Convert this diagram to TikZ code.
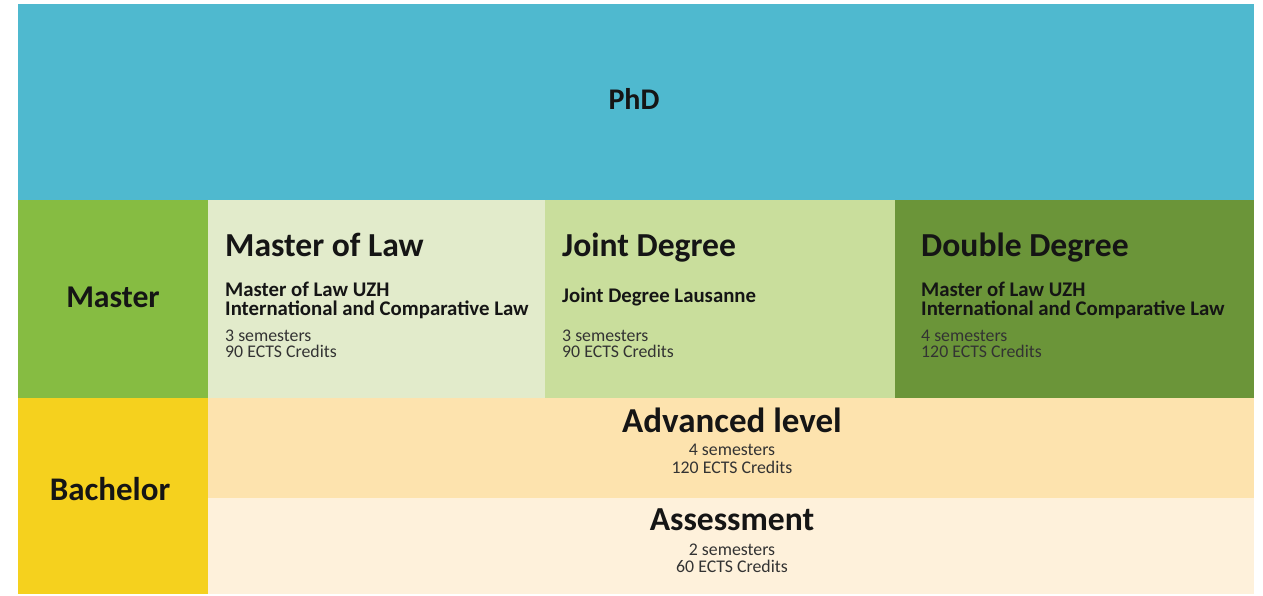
\documentclass[tikz,border=0pt]{standalone}
\usepackage{fontspec}
\setmainfont{Carlito}
\definecolor{phdblue}{HTML}{4FB9CF}
\definecolor{mgreen}{HTML}{86BC42}
\definecolor{mllight}{HTML}{E2EBCB}
\definecolor{jdgreen}{HTML}{C9DE9C}
\definecolor{ddgreen}{HTML}{6B9539}
\definecolor{byellow}{HTML}{F5D11E}
\definecolor{advorange}{HTML}{FDE3AE}
\definecolor{asscream}{HTML}{FEF1DB}
\definecolor{ink}{HTML}{151515}
\definecolor{smallink}{HTML}{333333}
\tikzset{
  area/.style={draw=none, inner sep=0pt, outer sep=0pt, anchor=north west},
  bigtitle/.style={inner sep=0pt, text=ink, font=\fontsize{33}{35}\selectfont\bfseries},
  boxtitle/.style={inner sep=0pt, text=ink, font=\fontsize{33.6}{36}\selectfont\bfseries},
  subtitle/.style={inner sep=0pt, text=ink, font=\fontsize{20.8}{22}\selectfont\bfseries},
  detail/.style={inner sep=0pt, text=smallink, font=\fontsize{17.8}{19}\selectfont},
}
\begin{document}
\begin{tikzpicture}[x=1pt,y=-1pt]
\fill[white] (0,0) rectangle (1263,596);
\useasboundingbox (0,0) rectangle (1263,596);
% areas
\node[area, fill=phdblue, minimum width=1236pt, minimum height=196pt] (phd) at (18,4) {};
\node[area, fill=mgreen, minimum width=190pt, minimum height=198pt] (master) at (18,200) {};
\node[area, fill=mllight, minimum width=337pt, minimum height=198pt] (mlaw) at (208,200) {};
\node[area, fill=jdgreen, minimum width=350pt, minimum height=198pt] (joint) at (545,200) {};
\node[area, fill=ddgreen, minimum width=359pt, minimum height=198pt] (double) at (895,200) {};
\node[area, fill=byellow, minimum width=190pt, minimum height=196pt] (bachelor) at (18,398) {};
\node[area, fill=advorange, minimum width=1046pt, minimum height=100pt] (adv) at (208,398) {};
\node[area, fill=asscream, minimum width=1046pt, minimum height=96pt] (ass) at (208,498) {};
% labels
\node[bigtitle, anchor=base, font=\fontsize{30}{32}\selectfont\bfseries] (phdt) at (634,110) {PhD};
\node[bigtitle, anchor=base, font=\fontsize{31.7}{33}\selectfont\bfseries] (mastert) at (113,307) {Master};
\node[bigtitle, anchor=base] (bachelort) at (110,500) {Bachelor};
% master of law
\node[boxtitle, anchor=base west] (mlawt) at (225,256) {Master of Law};
\node[subtitle, anchor=base west] (mlaws1) at (225,296) {Master of Law UZH};
\node[subtitle, anchor=base west] (mlaws2) at (225,315) {International and Comparative Law};
\node[detail, anchor=base west] (mlawd1) at (225,341) {3 semesters};
\node[detail, anchor=base west] (mlawd2) at (225,357) {90 ECTS Credits};
% joint degree
\node[boxtitle, anchor=base west] (jointt) at (562,256) {Joint Degree};
\node[subtitle, anchor=base west] (joints1) at (562,302) {Joint Degree Lausanne};
\node[detail, anchor=base west] (jointd1) at (562,341) {3 semesters};
\node[detail, anchor=base west] (jointd2) at (562,357) {90 ECTS Credits};
% double degree
\node[boxtitle, anchor=base west] (doublet) at (921,256) {Double Degree};
\node[subtitle, anchor=base west] (doubles1) at (921,296) {Master of Law UZH};
\node[subtitle, anchor=base west] (doubles2) at (921,315) {International and Comparative Law};
\node[detail, anchor=base west] (doubled1) at (921,341) {4 semesters};
\node[detail, anchor=base west] (doubled2) at (921,357) {120 ECTS Credits};
% advanced level
\node[boxtitle, anchor=base, font=\fontsize{35}{37}\selectfont\bfseries] (advt) at (732,432) {Advanced level};
\node[detail, anchor=base] (advd1) at (732,455) {4 semesters};
\node[detail, anchor=base] (advd2) at (732,473) {120 ECTS Credits};
% assessment
\node[boxtitle, anchor=base] (asst) at (732,530) {Assessment};
\node[detail, anchor=base] (assd1) at (732,555) {2 semesters};
\node[detail, anchor=base] (assd2) at (732,572) {60 ECTS Credits};
\end{tikzpicture}
\end{document}
